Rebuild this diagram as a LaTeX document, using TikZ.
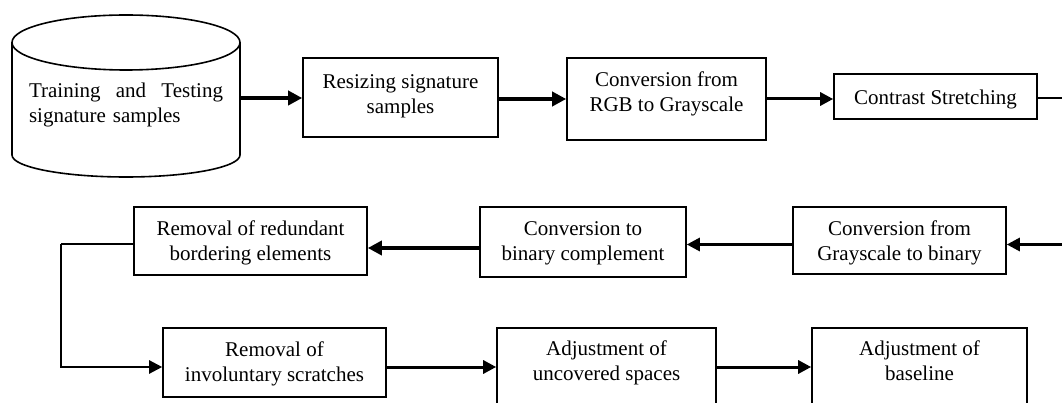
\documentclass[tikz,border=0pt]{standalone}
\usepackage{fontspec}
\setmainfont{Liberation Serif}
\usetikzlibrary{arrows.meta}
\begin{document}
\begin{tikzpicture}[x=1pt,y=-1pt,
  box/.style={draw, line width=1.6pt, inner sep=0pt},
  txt/.style={font=\fontsize{21}{24.8}\selectfont, align=center, inner sep=0pt},
  thickarr/.style={line width=4pt, -{Triangle[length=14pt,width=14pt]}},
  midarr/.style={line width=3pt, -{Triangle[length=13pt,width=13pt]}},
  thinline/.style={line width=1.6pt}
]
\clip (0,0) rectangle (1062,403);
\fill[white] (0,0) rectangle (1062,403);

% cylinder
\draw[line width=1.6pt] (126,42.5) ellipse [x radius=114pt, y radius=27.5pt];
\draw[line width=1.6pt] (12,42.5) -- (12,155) arc[start angle=180, end angle=360, x radius=114pt, y radius=22pt] -- (240,42.5);
\node[txt, text width=194pt, align=left] (db) at (126,105) {Training\hfill and\hfill Testing\\signature samples};
\coordinate (cylR) at (240,98);

% row 1
\node[box, minimum width=195pt, minimum height=79pt] (resize) at (400.5,97.5) {};
\node[txt] (resizet) at (400.5,96) {Resizing signature\\samples};
\node[box, minimum width=199pt, minimum height=82pt] (rgb) at (666.5,99) {};
\node[txt] (rgbt) at (666.5,93.5) {Conversion from\\RGB to Grayscale};
\node[box, minimum width=203pt, minimum height=45pt] (contrast) at (935.5,96.5) {};
\node[txt] (contrastt) at (935.5,99) {Contrast Stretching};

% row 2
\node[box, minimum width=213pt, minimum height=67pt] (gray) at (899.5,240.5) {};
\node[txt] (grayt) at (899.5,243) {Conversion from\\Grayscale to binary};
\node[box, minimum width=206pt, minimum height=70pt] (comp) at (583,242) {};
\node[txt] (compt) at (583,243) {Conversion to\\binary complement};
\node[box, minimum width=233pt, minimum height=68pt] (redund) at (250.5,241) {};
\node[txt] (redundt) at (250.5,243) {Removal of redundant\\bordering elements};

% row 3
\node[box, minimum width=223pt, minimum height=69pt] (invol) at (274.5,362.5) {};
\node[txt] (involt) at (274.5,364) {Removal of\\involuntary scratches};
\node[box, minimum width=219pt, minimum height=92pt] (uncov) at (606.5,374) {};
\node[txt] (uncovt) at (606.5,362.5) {Adjustment of\\uncovered spaces};
\node[box, minimum width=215pt, minimum height=92pt] (base) at (919.5,374) {};
\node[txt] (baset) at (919.5,360.5) {Adjustment of\\baseline};

% helper coordinates
\coordinate (r1) at (1062,98);
\coordinate (r2) at (1062,244.5);
\coordinate (r2b) at (0,248);
\coordinate (c1) at (61,244);
\coordinate (c2) at (61,367);

% connectors
\draw[thickarr] (cylR) -- (resize.west |- cylR);
\draw[thickarr] (resize.east |- rgb.west) -- (rgb.west);
\draw[midarr] (rgb.east) -- (rgb.east -| contrast.west);
\draw[thinline] (contrast.east |- r1) -- (r1);
\draw[midarr] (r2) -- (r2 -| gray.east);
\draw[midarr] (gray.west |- r2) -- (comp.east |- r2);
\draw[thickarr] (comp.west |- r2b) -- (redund.east |- r2b);
\draw[thinline] (redund.west |- c1) -- (c1);
\draw[line width=2.4pt, -{Triangle[length=13pt,width=13pt]}] (c1) -- (c2) -- (invol.west |- c2);
\draw[midarr] (invol.east |- c2) -- (uncov.west |- c2);
\draw[midarr] (uncov.east |- c2) -- (base.west |- c2);
\end{tikzpicture}
\end{document}
